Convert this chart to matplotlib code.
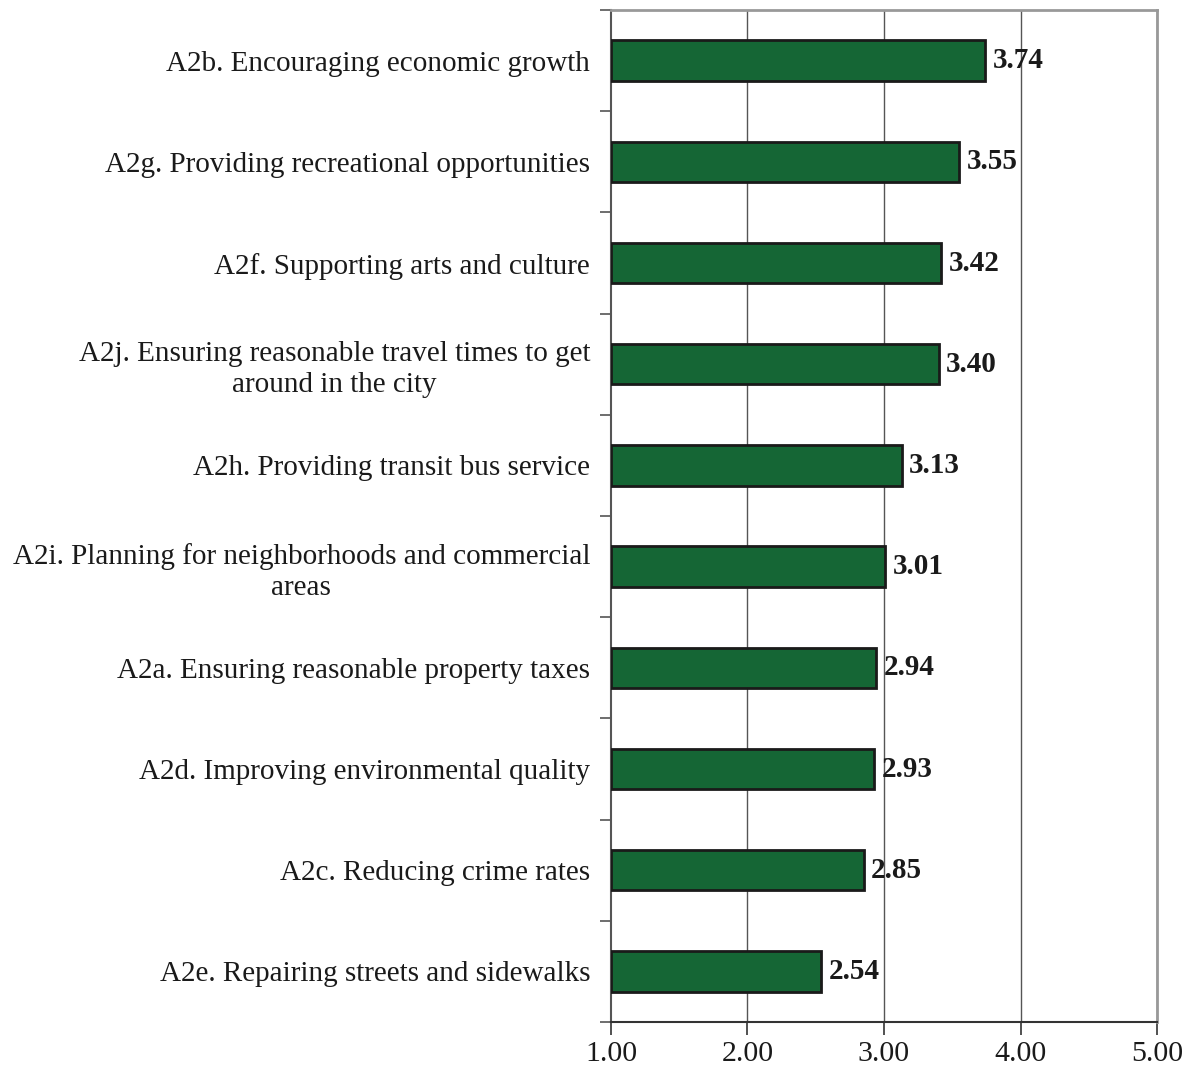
import matplotlib
matplotlib.use("Agg")
import matplotlib.pyplot as plt

categories = [
    "A2b. Encouraging economic growth",
    "A2g. Providing recreational opportunities",
    "A2f. Supporting arts and culture",
    "A2j. Ensuring reasonable travel times to get\naround in the city",
    "A2h. Providing transit bus service",
    "A2i. Planning for neighborhoods and commercial\nareas",
    "A2a. Ensuring reasonable property taxes",
    "A2d. Improving environmental quality",
    "A2c. Reducing crime rates",
    "A2e. Repairing streets and sidewalks",
]
scores = [3.74, 3.55, 3.42, 3.40, 3.13, 3.01, 2.94, 2.93, 2.85, 2.54]
x_ticks = [1.0, 2.0, 3.0, 4.0, 5.0]
x_tick_labels = ["1.00", "2.00", "3.00", "4.00", "5.00"]

plt.rcParams["font.family"] = ["Liberation Serif", "DejaVu Serif"]

fig = plt.figure(figsize=(11.9, 10.78), dpi=100)
ax = fig.add_axes([0.5134, 0.0519, 0.9723 - 0.5134, 0.9907 - 0.0519])

n = len(categories)
ypos = list(range(n))
ax.barh(ypos, [s - 1.0 for s in scores], left=1.0, height=0.4,
        color="#156635", edgecolor="#1a1a1a", linewidth=2.0, zorder=3)

for y, s in zip(ypos, scores):
    ax.text(s + 0.055, y, f"{s:.2f}", va="center", ha="left",
            fontsize=21, fontweight="bold", color="#1a1a1a", zorder=4)

ax.set_xlim(1.0, 5.0)
ax.set_ylim(n - 0.5, -0.5)
ax.set_xticks(x_ticks)
ax.set_xticklabels(x_tick_labels, fontsize=21.5, color="#1a1a1a")
ax.tick_params(axis="x", length=9, width=1.2, color="#333333", pad=5)

# category labels centred on bars, separator ticks between them
ax.set_yticks(ypos)
ax.set_yticklabels(categories, fontsize=21, color="#1a1a1a",
                   multialignment="center", linespacing=1.25)
ax.tick_params(axis="y", which="major", length=0, pad=15)
ax.set_yticks([i - 0.5 for i in range(n + 1)], minor=True)
ax.tick_params(axis="y", which="minor", length=8, width=1.2, color="#555555")

for x in x_ticks[1:]:
    ax.axvline(x, color="#555555", linewidth=1.0, zorder=1)

ax.spines["left"].set_color("#555555")
ax.spines["left"].set_linewidth(1.5)
ax.spines["bottom"].set_color("#333333")
ax.spines["bottom"].set_linewidth(1.5)
ax.spines["top"].set_color("#999999")
ax.spines["top"].set_linewidth(2.0)
ax.spines["right"].set_color("#999999")
ax.spines["right"].set_linewidth(2.0)

fig.savefig("out.png", dpi=100)
